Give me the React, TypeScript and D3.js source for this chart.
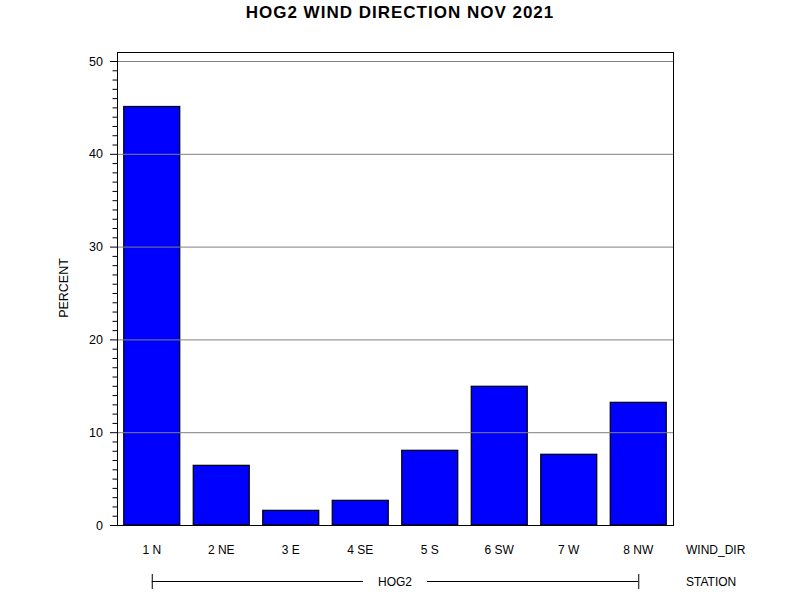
import React from "react";
import * as d3 from "d3";

// wind direction categories and percent frequency
const directions = ["1 N", "2 NE", "3 E", "4 SE", "5 S", "6 SW", "7 W", "8 NW"];
const percents = [45.1, 6.43, 1.58, 2.66, 8.05, 14.95, 7.62, 13.22];
const majorTicks = [0, 10, 20, 30, 40, 50];
const station = "HOG2";

const W = 800;
const H = 600;
const FONT = "'Liberation Sans', Arial, sans-serif";

export default function App() {
    const left = 117, right = 673, top = 52, bottom = 525;

    const x = d3.scaleBand<string>()
        .domain(directions)
        .range([left, right])
        .paddingInner(0.194)
        .paddingOuter(0.097);

    const y = d3.scaleLinear().domain([0, 50]).range([bottom, 61]);
    const minorTicks = d3.range(0, 51, 1).filter((v) => v % 10 !== 0);

    const first = (x(directions[0]) ?? 0) + x.bandwidth() / 2;
    const last = (x(directions[directions.length - 1]) ?? 0) + x.bandwidth() / 2;
    const bracketY = 581;
    const mid = (first + last) / 2;

    return (
        <svg width={W} height={H} style={{ position: "absolute", left: 0, top: 0, background: "#fff" }} fontFamily={FONT}>
            <rect width={W} height={H} fill="#fff" />
            <text x={400} y={18} textAnchor="middle" fontSize={17} fontWeight="bold" letterSpacing={1} fill="#000">
                HOG2 WIND DIRECTION NOV 2021
            </text>

            {/* bars */}
            {directions.map((d, i) => (
                <rect key={d} x={x(d)} y={y(percents[i])} width={x.bandwidth()} height={bottom - y(percents[i])}
                    fill="#0000ff" stroke="#000" strokeWidth={1.2} />
            ))}

            {/* gridlines, drawn over the bars */}
            {majorTicks.filter((v) => v > 0).map((v) => (
                <line key={v} x1={left} x2={right} y1={y(v) + 0.5} y2={y(v) + 0.5} stroke="#808080" strokeWidth={1} />
            ))}

            {/* frame */}
            <line x1={left} x2={right} y1={top + 0.5} y2={top + 0.5} stroke="#000" />
            <line x1={right + 0.5} x2={right + 0.5} y1={top} y2={bottom} stroke="#000" />
            <line x1={left} x2={right + 1} y1={bottom + 0.5} y2={bottom + 0.5} stroke="#000" />
            <line x1={left + 0.5} x2={left + 0.5} y1={top} y2={bottom + 1} stroke="#000" />

            {/* y axis ticks */}
            {minorTicks.map((v) => (
                <line key={v} x1={left - 4.5} x2={left} y1={y(v) + 0.5} y2={y(v) + 0.5} stroke="#000" />
            ))}
            {majorTicks.map((v) => (
                <g key={v}>
                    <line x1={left - 7} x2={left} y1={y(v) + 0.5} y2={y(v) + 0.5} stroke="#000" />
                    <text x={103} y={y(v) + 4.5} textAnchor="end" fontSize={12.5} fill="#000">{v}</text>
                </g>
            ))}
            <text transform={`translate(68,288) rotate(-90)`} textAnchor="middle" fontSize={12.5} fill="#000">PERCENT</text>

            {/* x labels */}
            {directions.map((d) => (
                <text key={d} x={(x(d) ?? 0) + x.bandwidth() / 2} y={554} textAnchor="middle" fontSize={12} fill="#000">{d}</text>
            ))}
            <text x={686} y={554} fontSize={12} fill="#000">WIND_DIR</text>

            {/* station bracket */}
            <line x1={first + 0.5} x2={first + 0.5} y1={574} y2={589} stroke="#000" />
            <line x1={last + 0.5} x2={last + 0.5} y1={574} y2={589} stroke="#000" />
            <line x1={first} x2={mid - 32} y1={bracketY + 0.5} y2={bracketY + 0.5} stroke="#000" />
            <line x1={mid + 32} x2={last} y1={bracketY + 0.5} y2={bracketY + 0.5} stroke="#000" />
            <text x={mid} y={bracketY + 4.5} textAnchor="middle" fontSize={12} fill="#000">{station}</text>
            <text x={686} y={bracketY + 4.5} fontSize={12} fill="#000">STATION</text>
        </svg>
    );
}
